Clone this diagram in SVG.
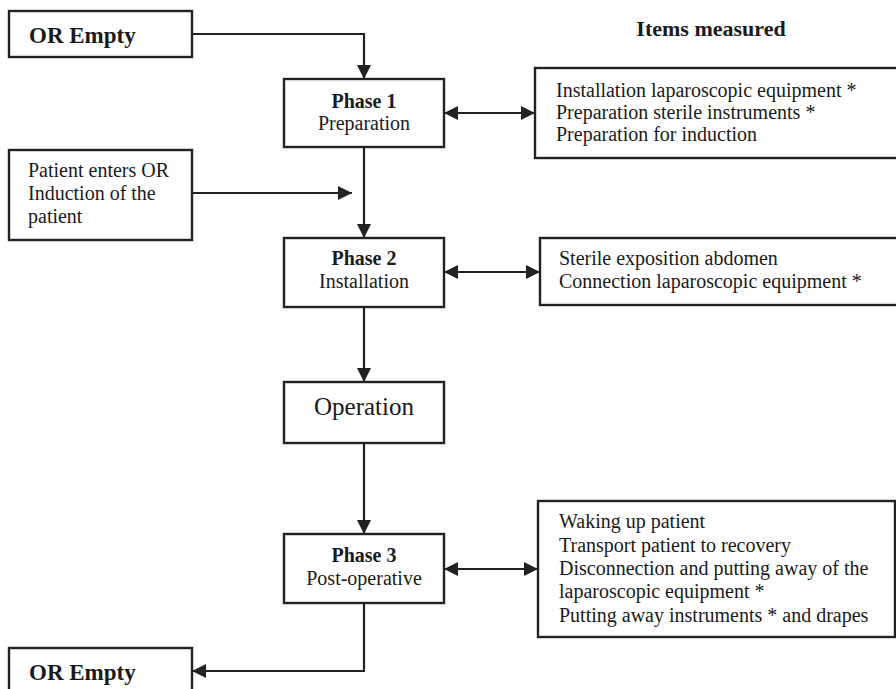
<svg xmlns="http://www.w3.org/2000/svg" width="896" height="689" viewBox="0 0 896 689">
<style>
.box{fill:#fff;stroke:#222;stroke-width:2.4}
.ln{fill:none;stroke:#222;stroke-width:2.2}
text{font-family:"Liberation Serif","Times New Roman",serif;fill:#1a1a1a;font-size:20px}
.b{font-weight:bold}
.c{text-anchor:middle}
</style>
<defs>
<marker id="ah" viewBox="0 0 14 14" markerWidth="14" markerHeight="14" refX="14" refY="7" orient="auto-start-reverse" markerUnits="userSpaceOnUse">
<path d="M0,0 L14,7 L0,14 z" fill="#222"/>
</marker>
</defs>
<g id="connectors">
<path class="ln" d="M192,34 H364 V79" marker-end="url(#ah)"/>
<path class="ln" d="M444,113 H535" marker-start="url(#ah)" marker-end="url(#ah)"/>
<path class="ln" d="M192,193 H352" marker-end="url(#ah)"/>
<path class="ln" d="M364,147 V238" marker-end="url(#ah)"/>
<path class="ln" d="M444,272 H540" marker-start="url(#ah)" marker-end="url(#ah)"/>
<path class="ln" d="M364,307 V382" marker-end="url(#ah)"/>
<path class="ln" d="M364,443 V534" marker-end="url(#ah)"/>
<path class="ln" d="M444,569 H538" marker-start="url(#ah)" marker-end="url(#ah)"/>
<path class="ln" d="M364,603 V671 H192" marker-end="url(#ah)"/>
</g>
<g id="title"><text class="b c" x="711" y="36" style="font-size:22px">Items measured</text></g>
<g id="or-empty-top">
<rect class="box" x="9" y="11" width="183" height="46"/>
<text class="b" x="29" y="43" style="font-size:23px">OR Empty</text>
</g>
<g id="phase1">
<rect class="box" x="284" y="79" width="160" height="68"/>
<text class="b c" x="364" y="108">Phase 1</text>
<text class="c" x="364" y="130">Preparation</text>
</g>
<g id="items1">
<rect class="box" x="535" y="68" width="370" height="90"/>
<text x="556" y="97">Installation laparoscopic equipment *</text>
<text x="556" y="119">Preparation sterile instruments *</text>
<text x="556" y="141">Preparation for induction</text>
</g>
<g id="patient">
<rect class="box" x="9" y="150" width="183" height="90"/>
<text x="28" y="177">Patient enters OR</text>
<text x="28" y="200">Induction of the</text>
<text x="28" y="223">patient</text>
</g>
<g id="phase2">
<rect class="box" x="284" y="238" width="160" height="69"/>
<text class="b c" x="364" y="265">Phase 2</text>
<text class="c" x="364" y="288">Installation</text>
</g>
<g id="items2">
<rect class="box" x="540" y="238" width="365" height="67"/>
<text x="559" y="265">Sterile exposition abdomen</text>
<text x="559" y="288">Connection laparoscopic equipment *</text>
</g>
<g id="operation">
<rect class="box" x="284" y="382" width="160" height="61"/>
<text class="c" x="364" y="415" style="font-size:25px">Operation</text>
</g>
<g id="phase3">
<rect class="box" x="284" y="534" width="160" height="69"/>
<text class="b c" x="364" y="562">Phase 3</text>
<text class="c" x="364" y="585">Post-operative</text>
</g>
<g id="items3">
<rect class="box" x="538" y="501" width="357" height="136"/>
<text x="559" y="528">Waking up patient</text>
<text x="559" y="552">Transport patient to recovery</text>
<text x="559" y="575">Disconnection and putting away of the</text>
<text x="559" y="598">laparoscopic equipment *</text>
<text x="559" y="622">Putting away instruments * and drapes</text>
</g>
<g id="or-empty-bottom">
<rect class="box" x="9" y="648" width="183" height="50"/>
<text class="b" x="29" y="680" style="font-size:23px">OR Empty</text>
</g>
</svg>
